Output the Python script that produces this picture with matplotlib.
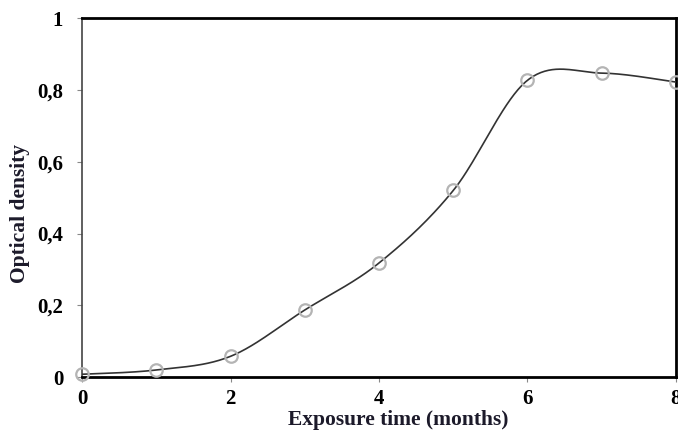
import numpy as np
import matplotlib
matplotlib.use('Agg')
import matplotlib.pyplot as plt
from matplotlib.ticker import FuncFormatter

# data
months = [0, 1, 2, 3, 4, 5, 6, 7, 8]
optical_density = [0.008, 0.02, 0.058, 0.187, 0.318, 0.52, 0.827, 0.847, 0.822]
x_ticks = [0, 2, 4, 6, 8]
y_ticks = [0, 0.2, 0.4, 0.6, 0.8, 1]


def smooth(x, y, n=40):
    # excel-like smoothed line: bezier segments, control points from neighbours
    x = np.asarray(x, float)
    y = np.asarray(y, float)
    px, py = [], []
    for i in range(len(x) - 1):
        x0, y0 = (x[i - 1], y[i - 1]) if i > 0 else (x[i], y[i])
        x3, y3 = (x[i + 2], y[i + 2]) if i + 2 < len(x) else (x[i + 1], y[i + 1])
        c1x = x[i] + (x[i + 1] - x0) / 6
        c1y = y[i] + (y[i + 1] - y0) / 6
        c2x = x[i + 1] - (x3 - x[i]) / 6
        c2y = y[i + 1] - (y3 - y[i]) / 6
        t = np.linspace(0, 1, n)
        px.append((1-t)**3*x[i] + 3*(1-t)**2*t*c1x + 3*(1-t)*t**2*c2x + t**3*x[i+1])
        py.append((1-t)**3*y[i] + 3*(1-t)**2*t*c1y + 3*(1-t)*t**2*c2y + t**3*y[i+1])
    return np.concatenate(px), np.concatenate(py)


plt.rcParams['font.family'] = ['Liberation Serif', 'DejaVu Serif']
fig = plt.figure(figsize=(6.78, 4.33), dpi=100)
ax = fig.add_axes([0.121, 0.129, 0.876, 0.829])

sx, sy = smooth(months, optical_density)
ax.plot(sx, sy, color='#333333', lw=1.2, zorder=3)
ax.plot(months, optical_density, 'o', ms=9, mfc='none', mec='#b4b4b4', mew=1.6,
        zorder=4, clip_on=False)

ax.set_xlim(0, 8)
ax.set_ylim(0, 1)
ax.set_xticks(x_ticks)
ax.set_yticks(y_ticks)
ax.yaxis.set_major_formatter(FuncFormatter(lambda v, p: ('%g' % round(v, 1)).replace('.', ',')))

for side in ['top', 'right', 'bottom']:
    ax.spines[side].set_linewidth(2)
    ax.spines[side].set_color('black')
ax.spines['left'].set_linewidth(1.2)
ax.spines['left'].set_color('#444444')

ax.tick_params(direction='out', length=3.6, width=0.8, color='#888888',
               labelsize=15)
ax.tick_params(axis='y', pad=10)
ax.tick_params(axis='x', pad=5)
for lab in ax.get_xticklabels() + ax.get_yticklabels():
    lab.set_fontweight('bold')

lab_col = '#1c1a2a'
ax.set_xlabel('Exposure time (months)', fontsize=15.5, fontweight='bold',
              color=lab_col, labelpad=1)
ax.set_ylabel('Optical density', fontsize=15.5, fontweight='bold',
              color=lab_col, labelpad=5)
# labels sit a bit off centre in the original
ax.xaxis.label.set_x(0.533)
ax.yaxis.label.set_y(0.455)

fig.savefig('out.png', dpi=100)
